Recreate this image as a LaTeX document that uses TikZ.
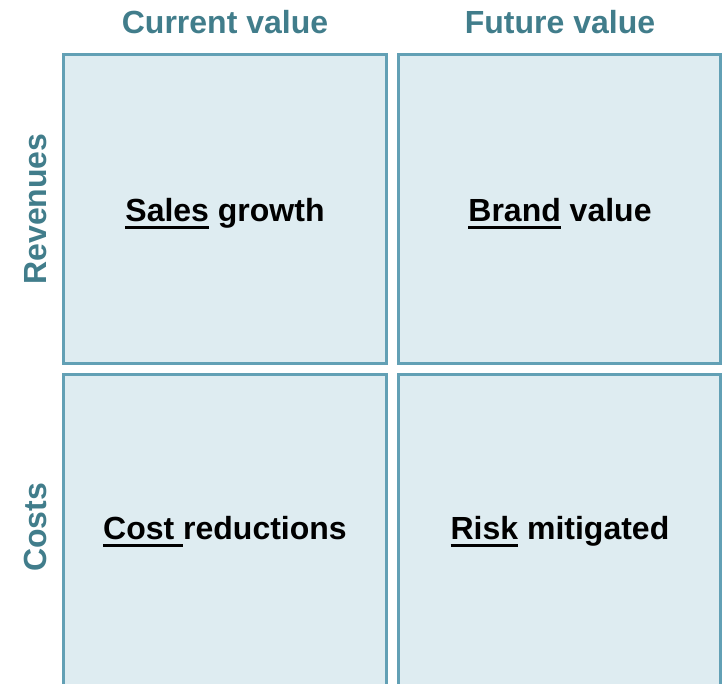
\documentclass[tikz,border=0pt]{standalone}
\usepackage{fontspec}
\setmainfont{Liberation Sans}
\definecolor{boxfill}{RGB}{222,236,241}
\definecolor{boxline}{RGB}{98,160,181}
\definecolor{titlecol}{RGB}{65,125,139}
\newcommand\ulword[1]{\setbox0\hbox{#1}\rlap{\rule[-5.25pt]{\wd0}{2.25pt}}\box0\relax}
\tikzset{
  cell/.style={draw=boxline, fill=boxfill, line width=2.25pt},
  head/.style={anchor=base, inner sep=0pt, text=titlecol, font=\fontsize{24}{28}\selectfont\bfseries},
  lab/.style={anchor=base, inner sep=0pt, text=black, font=\fontsize{24}{28}\selectfont\bfseries}
}
\begin{document}
\begin{tikzpicture}[x=0.75pt,y=-0.75pt]
\useasboundingbox (0,0) rectangle (726,684);
\draw[cell] (63.5,55) rectangle (386.5,363.5);
\draw[cell] (398,55) rectangle (720.5,363.5);
\draw[cell] (63.5,374.5) rectangle (386.5,686);
\draw[cell] (398,374.5) rectangle (720.5,686);
\node[head] (cur) at (225,34) {Current value};
\node[head] (fut) at (560,34) {Future value};
\node[head, rotate=90] (rev) at (46.5,209) {Revenues};
\node[head, rotate=90] (cst) at (46.5,527.5) {Costs};
\node[lab] (sales) at (225,222) {\ulword{Sales} growth};
\node[lab] (brand) at (560,222) {\ulword{Brand} value};
\node[lab] (cost) at (225,540) {\ulword{Cost }reductions};
\node[lab] (risk) at (560,540) {\ulword{Risk} mitigated};
\end{tikzpicture}
\end{document}
